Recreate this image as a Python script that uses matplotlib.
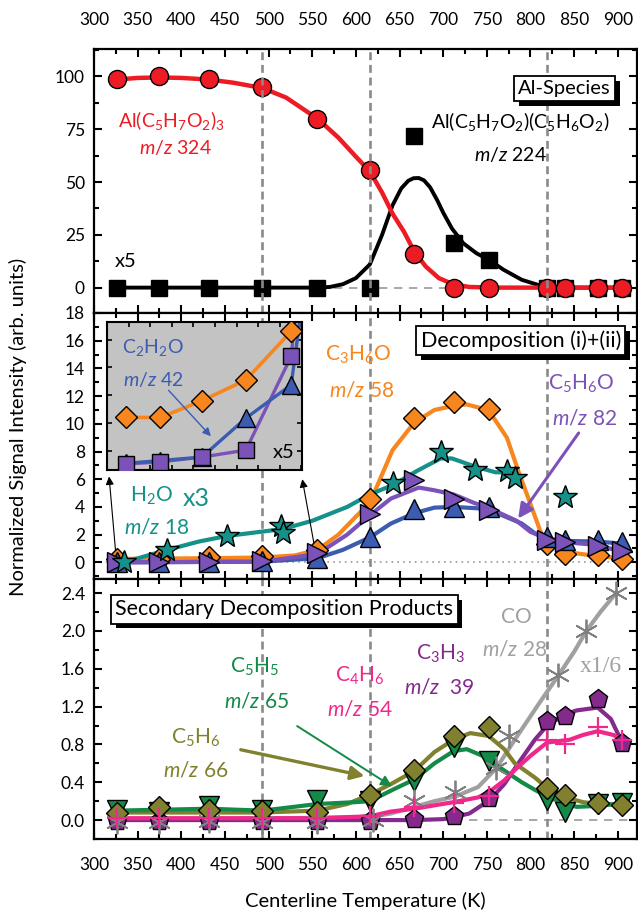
import matplotlib
matplotlib.use('Agg')
import matplotlib.pyplot as plt
import matplotlib.patheffects as pe
from matplotlib.ticker import MultipleLocator, FormatStrFormatter

plt.rcParams['font.family'] = ['Lato', 'DejaVu Sans']
plt.rcParams['mathtext.fontset'] = 'custom'
plt.rcParams['mathtext.rm'] = 'Lato'
plt.rcParams['mathtext.it'] = 'Lato:italic'
plt.rcParams['mathtext.bf'] = 'Lato:bold'

# temperatures of the sampled points (K)
T = [326, 374, 432, 493, 556, 616, 667, 712, 753, 819, 840, 877, 905]
T_steps = [493, 616, 819]

# --- Al species ---
acac3 = [98.7, 100, 98.9, 94.9, 80, 55.7, 15.9, 0, 0, 0, 0, 0, 0]
acac2 = [0, 0, 0, 0, 0, 0, 72, 21, 13, 0, 0, 0, 0]
fit_acac3_T = [326, 350, 374, 400, 432, 460, 493, 520, 556, 580, 600, 616, 630, 642, 655, 667, 680, 695, 712, 730, 760, 905]
fit_acac3 = [98.5, 99.3, 99.5, 99.3, 98.5, 97, 94.5, 90, 80, 71, 62, 55, 45, 35, 26.5, 17, 10, 4.5, 1.5, 0.3, 0, 0]
fit_acac2_T = [326, 556, 570, 585, 600, 616, 630, 642, 652, 660, 666, 672, 678, 685, 693, 700, 710, 723, 738, 753, 769, 790, 811, 830, 905]
fit_acac2 = [0, 0, 0.3, 1.6, 4.5, 11, 25, 39, 47, 50.6, 51.8, 51.9, 50.8, 47.5, 41.5, 35.5, 28, 21, 16.3, 13, 8.5, 3.7, 1, 0, 0]

# --- decomposition (i)+(ii) ---
c3h6o = [0.25, 0.25, 0.4, 0.45, 0.9, 4.6, 10.4, 11.6, 11.1, 1.3, 0.6, 0.5, 0.25]
c2h2o = [0, 0, 0, 0.1, 0.35, 1.8, 3.85, 4.0, 4.0, 1.8, 1.6, 1.6, 1.45]
c5h6o = [0, 0, 0, 0.1, 0.7, 3.5, 5.95, 4.6, 3.75, 1.6, 1.45, 1.2, 0.85]
T_h2o = [334, 384, 452, 514, 517, 643, 697, 737, 773, 782, 839]
h2o = [0, 0.9, 1.9, 2.65, 2.1, 5.7, 7.95, 6.7, 6.6, 6.1, 4.7]

fit_c3h6o_T = [326, 432, 493, 530, 556, 580, 600, 616, 642, 667, 690, 712, 727, 745, 756, 773, 786, 800, 811, 819, 840, 877, 905]
fit_c3h6o = [0.25, 0.3, 0.35, 0.5, 0.9, 2, 3.3, 4.3, 8.1, 10.1, 11, 11.3, 11.4, 11.1, 10.6, 9.0, 6.6, 4.2, 2.3, 1.3, 0.75, 0.45, 0.3]
fit_h2o_T = [334, 384, 420, 452, 490, 516, 550, 590, 616, 643, 670, 697, 710, 737, 760, 773, 785]
fit_h2o = [0, 0.9, 1.5, 1.9, 2.2, 2.4, 3.0, 4.0, 4.9, 5.6, 6.6, 7.5, 7.5, 6.9, 6.5, 6.5, 6.0]
fit_c2h2o_T = [326, 493, 556, 585, 616, 640, 667, 690, 712, 740, 760, 790, 805, 819, 840, 877, 905]
fit_c2h2o = [0, 0.05, 0.3, 0.9, 1.8, 2.8, 3.55, 3.95, 4.0, 3.9, 3.6, 2.8, 2.1, 1.7, 1.55, 1.5, 1.35]
fit_c5h6o_T = [326, 493, 556, 590, 616, 640, 672, 690, 712, 735, 753, 784, 800, 819, 840, 877, 905]
fit_c5h6o = [0, 0.05, 0.6, 2.0, 3.4, 4.6, 5.4, 5.2, 4.9, 4.3, 3.9, 3.0, 2.2, 1.7, 1.45, 1.25, 0.75]

# x5 close-up of the low temperature region
T_zoom = [326, 374, 432, 493, 556, 616]
zoom_c3h6o = [10.4, 10.4, 11.6, 13.1, 16.6, 51]
zoom_c2h2o = [7.1, 7.3, 7.55, 10.35, 12.75, 36]
zoom_c5h6o = [7.05, 7.2, 7.55, 8.05, 14.8, 45]

# --- secondary decomposition products ---
c5h6 = [0.07, 0.14, 0.11, 0.1, 0.09, 0.27, 0.53, 0.89, 0.98, 0.34, 0.27, 0.18, 0.16]
c5h5 = [0.11, 0.09, 0.15, 0.11, 0.21, 0.2, 0.41, 0.77, 0.62, 0.21, 0.09, 0.17, 0.18]
c4h6 = [0.02, 0.02, 0.02, 0.02, 0.02, 0.04, 0.14, 0.18, 0.25, 0.85, 0.8, 0.98, 0.85]
c3h3 = [-0.01, -0.01, -0.01, -0.01, -0.01, -0.01, 0.01, 0.04, 0.23, 1.05, 1.1, 1.28, 0.82]
T_co = [326, 374, 432, 493, 556, 620, 667, 714, 761, 775, 832, 864, 898]
co = [-0.02, -0.02, -0.01, -0.02, -0.02, 0.0, 0.2, 0.3, 0.55, 0.89, 1.53, 2.0, 2.4]

fit_c5h6_T = [326, 493, 556, 590, 616, 640, 667, 690, 712, 731, 752, 770, 782, 805, 819, 840, 860, 877, 905]
fit_c5h6 = [0.08, 0.08, 0.1, 0.17, 0.27, 0.38, 0.52, 0.72, 0.85, 0.92, 0.89, 0.75, 0.6, 0.45, 0.34, 0.24, 0.19, 0.17, 0.16]
fit_c5h5_T = [326, 432, 493, 556, 600, 616, 642, 667, 690, 712, 727, 745, 769, 790, 805, 819, 840, 853, 877, 905]
fit_c5h5 = [0.1, 0.12, 0.1, 0.17, 0.19, 0.2, 0.32, 0.43, 0.6, 0.73, 0.75, 0.68, 0.53, 0.4, 0.32, 0.25, 0.17, 0.14, 0.15, 0.18]
fit_c4h6_T = [326, 556, 616, 640, 667, 712, 740, 753, 770, 782, 800, 819, 845, 860, 877, 895, 905]
fit_c4h6 = [0.02, 0.02, 0.04, 0.09, 0.12, 0.19, 0.24, 0.3, 0.42, 0.53, 0.68, 0.82, 0.85, 0.9, 0.94, 0.9, 0.85]
fit_c3h3_T = [326, 616, 667, 700, 712, 730, 753, 770, 786, 805, 819, 840, 853, 877, 892, 905]
fit_c3h3 = [0, 0, 0, 0.01, 0.03, 0.07, 0.21, 0.38, 0.6, 0.85, 1.0, 1.12, 1.16, 1.19, 1.07, 0.82]
fit_co_T = [326, 616, 640, 667, 690, 714, 740, 761, 782, 811, 832, 850, 864, 880, 898]
fit_co = [0, 0.03, 0.07, 0.14, 0.2, 0.25, 0.35, 0.55, 0.85, 1.25, 1.53, 1.78, 2.0, 2.2, 2.4]

RED = '#ed1c24'
ORANGE = '#f7861f'
TEAL = '#14928a'
BLUE = '#3b5cb0'
VIOLET = '#7b52b8'
OLIVE = '#80802e'
GREEN = '#138a48'
PINK = '#f0288c'
PURPLE = '#842a8c'
GREY = '#a0a0a0'

fig = plt.figure(figsize=(6.38, 9.24), dpi=100)
L, R = 94 / 638, 637 / 638
ax1 = fig.add_axes([L, 0.6613, R - L, 0.947 - 0.6613])
ax2 = fig.add_axes([L, 0.3734, R - L, 0.6613 - 0.3734])
ax3 = fig.add_axes([L, 0.092, R - L, 0.3734 - 0.092])


def style(ax, zls, top_vlines=False):
    ax.set_xlim(300, 922)
    ax.xaxis.set_major_locator(MultipleLocator(50))
    ax.xaxis.set_minor_locator(MultipleLocator(25))
    ax.tick_params(which='both', direction='in', top=True, right=True,
                   width=1.5, labelsize=12.5, labelbottom=False, pad=6.5)
    ax.tick_params(which='major', length=6)
    ax.tick_params(which='minor', length=3.5)
    for s in ax.spines.values():
        s.set_linewidth(1.6)
    for t in T_steps:
        ax.axvline(t, color='#8a8a8a', ls=(0, (3, 1.8)), lw=1.9,
                   zorder=6 if top_vlines else 1)
    ax.axhline(0, color='#9a9a9a', ls=zls, lw=1.2, zorder=0.5)


def boxed(ax, x, y, s, size=15.5):
    t = ax.text(x, y, s, ha='center', va='center', fontsize=size, zorder=10,
                bbox=dict(boxstyle='square,pad=0.2', fc='white', ec='black', lw=1.3))
    t.get_bbox_patch().set_path_effects(
        [pe.withSimplePatchShadow(offset=(3.5, -3.5), shadow_rgbFace='black', alpha=1.0)])


# ---- top panel ----
style(ax1, (0, (5, 4)), top_vlines=True)
ax1.tick_params(axis='x', labeltop=True, pad=15)
ax1.set_ylim(-12, 113)
ax1.yaxis.set_major_locator(MultipleLocator(25))
ax1.yaxis.set_minor_locator(MultipleLocator(12.5))
ax1.plot(fit_acac2_T, fit_acac2, color='black', lw=2.8, zorder=2)
ax1.plot(fit_acac3_T, fit_acac3, color=RED, lw=3.2, zorder=2)
ax1.plot(T, acac2, ls='none', marker='s', ms=11, color='black', zorder=4)
ax1.plot(T, acac3, ls='none', marker='o', ms=13, mfc=RED, mec='black', mew=1, zorder=5)
ax1.text(389, 79, r'Al(C$_5$H$_7$O$_2$)$_3$', color=RED, fontsize=14, ha='center', va='center')
ax1.text(393, 66.5, r'$m/z$ 324', color=RED, fontsize=14, ha='center', va='center')
ax1.text(788, 78.5, r'Al(C$_5$H$_7$O$_2$)(C$_5$H$_6$O$_2$)', color='black', fontsize=14, ha='center', va='center')
ax1.text(777, 63, r'$m/z$ 224', color='black', fontsize=14, ha='center', va='center')
ax1.text(336, 12.4, 'x5', color='black', fontsize=14.5, ha='center', va='center')
boxed(ax1, 839, 94.3, 'Al-Species', size=14.5)

# ---- middle panel ----
style(ax2, (0, (1, 2.5)))
ax2.set_ylim(-1.2, 18)
ax2.yaxis.set_major_locator(MultipleLocator(2))
ax2.yaxis.set_minor_locator(MultipleLocator(1))
ax2.plot(fit_c3h6o_T, fit_c3h6o, color=ORANGE, lw=3, zorder=2)
ax2.plot(fit_h2o_T, fit_h2o, color=TEAL, lw=3, zorder=2)
ax2.plot(fit_c2h2o_T, fit_c2h2o, color=BLUE, lw=3, zorder=2)
ax2.plot(fit_c5h6o_T, fit_c5h6o, color=VIOLET, lw=3, zorder=2)
ax2.plot(T, c3h6o, ls='none', marker='D', ms=11, mfc=ORANGE, mec='black', mew=1, zorder=4)
ax2.plot(T, c2h2o, ls='none', marker='^', ms=14, mfc=BLUE, mec='black', mew=1, zorder=4)
ax2.plot(T, c5h6o, ls='none', marker='>', ms=14, mfc=VIOLET, mec='black', mew=1, zorder=4)
ax2.plot(T_h2o, h2o, ls='none', marker='*', ms=18, mfc=TEAL, mec='black', mew=1, zorder=5)
ax2.text(602, 15.0, r'C$_3$H$_6$O', color=ORANGE, fontsize=15, ha='center', va='center')
ax2.text(606, 12.4, r'$m/z$ 58', color=ORANGE, fontsize=15, ha='center', va='center')
ax2.text(858, 12.9, r'C$_5$H$_6$O', color=VIOLET, fontsize=15, ha='center', va='center')
ax2.text(862, 10.4, r'$m/z$ 82', color=VIOLET, fontsize=15, ha='center', va='center')
ax2.text(366, 4.8, r'H$_2$O', color=TEAL, fontsize=15, ha='center', va='center')
ax2.text(417, 4.6, 'x3', color=TEAL, fontsize=18, ha='center', va='center')
ax2.text(372, 2.5, r'$m/z$ 18', color=TEAL, fontsize=15, ha='center', va='center')
ax2.annotate('', xy=(784, 3.0), xytext=(857, 9.5),
             arrowprops=dict(arrowstyle='-|>', color=VIOLET, lw=2.2, mutation_scale=22))
ax2.annotate('', xy=(317, 6.4), xytext=(325, 0.6),
             arrowprops=dict(arrowstyle='-|>', color='black', lw=0.8, mutation_scale=12))
ax2.annotate('', xy=(538, 6.2), xytext=(553, 1.0),
             arrowprops=dict(arrowstyle='-|>', color='black', lw=0.8, mutation_scale=12))
boxed(ax2, 789, 16.0, 'Decomposition (i)+(ii)')

# close-up inset
axi = fig.add_axes([107 / 638, 1 - 470 / 924, 195 / 638, 148 / 924])
axi.set_facecolor('#c3c3c3')
axi.set_xlim(300, 571)
axi.set_ylim(6.62, 17.27)
axi.xaxis.set_major_locator(MultipleLocator(30))
axi.yaxis.set_major_locator(MultipleLocator(2))
axi.tick_params(which='both', direction='in', top=True, right=True, length=3.5,
                width=1.2, labelbottom=False, labelleft=False)
for s in axi.spines.values():
    s.set_linewidth(1.5)
axi.plot(T_zoom, zoom_c3h6o, color=ORANGE, lw=2.6, zorder=2)
axi.plot(T_zoom, zoom_c5h6o, color=VIOLET, lw=2.4, zorder=2)
axi.plot(T_zoom, zoom_c2h2o, color=BLUE, lw=2.4, zorder=2)
axi.plot(T_zoom, zoom_c3h6o, ls='none', marker='D', ms=11, mfc=ORANGE, mec='black', mew=1, zorder=4)
axi.plot(T_zoom, zoom_c2h2o, ls='none', marker='^', ms=13, mfc=BLUE, mec='black', mew=1, zorder=4)
axi.plot(T_zoom, zoom_c5h6o, ls='none', marker='s', ms=11, mfc=VIOLET, mec='black', mew=1, zorder=5)
axi.text(364, 15.47, r'C$_2$H$_2$O', color=BLUE, fontsize=14, ha='center', va='center')
axi.text(364, 13.1, r'$m/z$ 42', color=BLUE, fontsize=14, ha='center', va='center')
axi.text(545, 7.9, 'x5', color='black', fontsize=14.5, ha='center', va='center')
axi.annotate('', xy=(447, 8.9), xytext=(383, 12.5),
             arrowprops=dict(arrowstyle='-|>', color=BLUE, lw=1.0, mutation_scale=12))

# ---- bottom panel ----
style(ax3, (0, (5, 4)))
ax3.tick_params(axis='x', labelbottom=True, pad=13)
ax3.set_ylim(-0.2, 2.55)
ax3.yaxis.set_major_locator(MultipleLocator(0.4))
ax3.yaxis.set_minor_locator(MultipleLocator(0.2))
ax3.yaxis.set_major_formatter(FormatStrFormatter('%.1f'))
ax3.plot(fit_co_T, fit_co, color=GREY, lw=3, zorder=2)
ax3.plot(fit_c3h3_T, fit_c3h3, color=PURPLE, lw=3, zorder=2)
ax3.plot(fit_c5h6_T, fit_c5h6, color=OLIVE, lw=3, zorder=2)
ax3.plot(fit_c5h5_T, fit_c5h5, color=GREEN, lw=3, zorder=2)
ax3.plot(fit_c4h6_T, fit_c4h6, color=PINK, lw=3, zorder=3)
ax3.plot(T, c3h3, ls='none', marker='p', ms=14, mfc=PURPLE, mec='black', mew=1, zorder=4)
ax3.plot(T, c5h5, ls='none', marker='v', ms=14, mfc=GREEN, mec='black', mew=1, zorder=4)
ax3.plot(T, c5h6, ls='none', marker='D', ms=11, mfc=OLIVE, mec='black', mew=1, zorder=5)
ax3.plot(T_co, co, ls='none', marker=(6, 2, 0), ms=17, mew=1.3, color='#808080', zorder=5)
ax3.plot(T, c4h6, ls='none', marker='+', ms=15, mew=1.6, color=PINK, zorder=6)
ax3.text(784, 2.15, 'CO', color=GREY, fontsize=15, ha='center', va='center')
ax3.text(782, 1.8, r'$m/z$ 28', color=GREY, fontsize=15, ha='center', va='center')
ax3.text(881, 1.62, 'x1/6', color=GREY, fontsize=17, ha='center', va='center', family='Liberation Serif')
ax3.text(697, 1.76, r'C$_3$H$_3$', color=PURPLE, fontsize=15, ha='center', va='center')
ax3.text(695, 1.4, r'$m/z$  39', color=PURPLE, fontsize=15, ha='center', va='center')
ax3.text(604, 1.53, r'C$_4$H$_6$', color=PINK, fontsize=15, ha='center', va='center')
ax3.text(604, 1.17, r'$m/z$ 54', color=PINK, fontsize=15, ha='center', va='center')
ax3.text(484, 1.62, r'C$_5$H$_5$', color=GREEN, fontsize=15, ha='center', va='center')
ax3.text(486, 1.25, r'$m/z$ 65', color=GREEN, fontsize=15, ha='center', va='center')
ax3.text(416, 0.87, r'C$_5$H$_6$', color=OLIVE, fontsize=15, ha='center', va='center')
ax3.text(416, 0.52, r'$m/z$ 66', color=OLIVE, fontsize=15, ha='center', va='center')
ax3.annotate('', xy=(613, 0.46), xytext=(465, 0.75),
             arrowprops=dict(arrowstyle='-|>', color=OLIVE, lw=2.4, mutation_scale=20))
ax3.annotate('', xy=(644, 0.34), xytext=(530, 1.01),
             arrowprops=dict(arrowstyle='-|>', color=GREEN, lw=1.4, mutation_scale=16))
boxed(ax3, 518, 2.23, 'Secondary Decomposition Products')

fig.text(0.573, 0.025, 'Centerline Temperature (K)', ha='center', va='center', fontsize=14.5)
fig.text(0.028, 0.538, 'Normalized Signal Intensity (arb. units)', ha='center', va='center',
         rotation=90, fontsize=14.5)

fig.savefig('out.png', dpi=100)
